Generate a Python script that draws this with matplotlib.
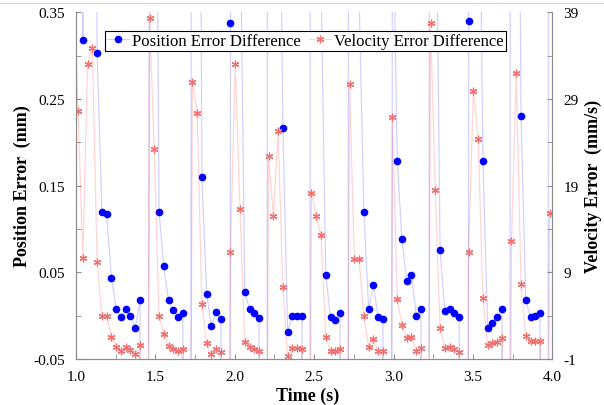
import numpy as np
import matplotlib
matplotlib.use("Agg")
import matplotlib.pyplot as plt
from matplotlib.ticker import MultipleLocator, FormatStrFormatter
from matplotlib.lines import Line2D

plt.rcParams['font.family'] = ['Liberation Serif', 'DejaVu Serif']
plt.rcParams['axes.unicode_minus'] = False

# sampling clock (s)
t_start = 0.983
t_step = 0.03

# position error difference (mm); values outside the plot range are the spikes
pos_err = [2.5, 2.5, 0.318, 2.5, 2.5, 0.303, 0.120, 0.117, 0.044, 0.008, -0.002, 0.008, 0.000, -0.014, 0.018,
           -6, 0.8, 0.97, 0.120, 0.057, 0.018, 0.006, -0.002, 0.003,
           -6, 2.5, 1.4, 0.160, 0.025, -0.012, 0.004, -0.004,
           -6, 0.338, 2.5, 0.49, 0.027, 0.008, 0.003, -0.003,
           -6, 2.5, 2.5, 0.71, 0.217, -0.019, 0.000, 0.000, 0.000,
           -6, 2.5, 2.5, 0.39, 0.047, -0.002, -0.005, 0.003,
           -6, 2.5, 2.5, 0.37, 0.120, 0.008, 0.035, -0.002, -0.004,
           -6, 0.52, 0.179, 0.088, 0.040, 0.047, 0.000, 0.008,
           -6, 2.5, 0.6, 0.076, 0.005, 0.008, 0.003, -0.002,
           -6, 0.340, 2.5, 0.67, 0.179, -0.014, -0.008, -0.002, 0.008,
           -6, 2.5, 1.03, 0.230, 0.018, -0.002, 0.000, 0.003,
           -6, 2.5]

# velocity error difference (mm/s)
vel_err = [43.5, 27.65, 10.65, 33.0, 34.85, 10.23, 4.0, 4.0, 1.5, 0.35, -0.04, 0.35, 0.0, -0.4, 0.65,
           -100, 38.35, 23.2, 4.0, 1.9, 0.54, 0.15, -0.04, 0.15,
           -100, 31.0, 27.4, 5.35, 0.8, -0.4, 0.15, -0.15,
           -100, 11.3, 33.0, 16.3, 0.92, 0.35, 0.15, -0.04,
           -100, 22.46, 15.46, 25.27, 7.27, -0.6, 0.27, 0.27, 0.15,
           -100, 18.2, 15.5, 13.3, 1.58, -0.04, -0.04, 0.15,
           -100, 30.7, 10.5, 10.5, 4.0, 0.35, 1.3, -0.04, -0.04,
           -100, 26.9, 5.92, 2.96, 1.38, 1.58, -0.04, 0.27,
           -100, 37.8, 18.5, 2.58, 0.27, 0.35, 0.15, -0.15,
           -100, 11.4, 29.96, 24.4, 6.04, 0.65, 0.8, 0.92, 1.38,
           -100, 12.6, 31.96, 7.65, 1.69, 1.04, 1.04, 1.1,
           -100, 15.9]

time_s = t_start + t_step * np.arange(len(pos_err))

fig = plt.figure(figsize=(6.04, 4.06), dpi=100)
ax = fig.add_axes([76 / 604, 46 / 406, 476.3 / 604, 346.7 / 406])
ax2 = ax.twinx()

h1, = ax.plot(time_s, pos_err, color=(0, 0, 1, 0.18), lw=0.9, marker='o', ms=4.5,
              mfc='#0000ff', mec='#0000ff', label='Position Error Difference')
h2, = ax2.plot(time_s, vel_err, color=(1, 0, 0, 0.17), lw=0.9, marker=(6, 2, 0), ms=5.5,
               mfc='#f07070', mec='#f07070', mew=0.9, label='Velocity Error Difference')

ax.set_xlim(1.0, 4.0)
ax.set_ylim(-0.05, 0.35)
ax2.set_ylim(-1, 39)

gray = '#8c8c8c'
for a in (ax, ax2):
    a.spines['top'].set_visible(False)
    for s in ('left', 'right', 'bottom'):
        a.spines[s].set_color(gray)
    a.tick_params(which='both', direction='in', length=3.5, color=gray, labelsize=11)

ax.xaxis.set_major_locator(MultipleLocator(0.5))
ax.xaxis.set_minor_locator(MultipleLocator(0.25))
ax.xaxis.set_major_formatter(FormatStrFormatter('%.1f'))
ax.set_yticks([-0.05, 0.05, 0.15, 0.25, 0.35])
ax.set_yticks([0.0, 0.1, 0.2, 0.3], minor=True)
ax.yaxis.set_major_formatter(FormatStrFormatter('%.2f'))
ax2.set_yticks([-1, 9, 19, 29, 39])
ax2.set_yticks([4, 14, 24, 34], minor=True)
ax.tick_params(axis='y', pad=8)
ax.tick_params(axis='x', pad=8)
ax2.tick_params(axis='y', pad=8)

fig.text(22 / 604, 1 - 186 / 406, 'Position Error  (mm)', rotation=90, ha='center', va='center',
         fontsize=13, fontweight='bold')
fig.text(593 / 604, 1 - 186 / 406, 'Velocity Error  (mm/s)', rotation=90, ha='center', va='center',
         fontsize=13, fontweight='bold')
fig.text(308 / 604, 1 - 396 / 406, 'Time (s)', ha='center', va='center', fontsize=13, fontweight='bold')

leg = ax2.legend(handles=[h1, h2], loc='upper center', bbox_to_anchor=(0.482, 0.946), ncol=2,
                 fontsize=12, frameon=True, fancybox=False, framealpha=1, edgecolor='black',
                 borderpad=0.12, handlelength=1.3, handletextpad=0.2, columnspacing=0.5,
                 borderaxespad=0)
leg.get_frame().set_linewidth(0.8)

fig.add_artist(Line2D([0, 1], [1 - 3.5 / 406] * 2, color='#d9d9d9', lw=1))

fig.savefig('out.png', dpi=100)
